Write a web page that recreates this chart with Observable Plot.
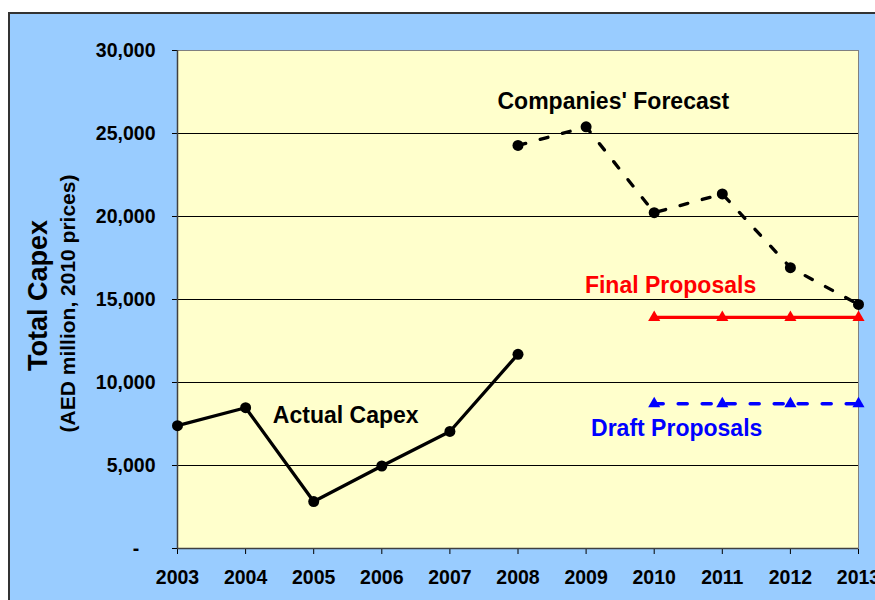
<!DOCTYPE html>
<html><head><meta charset="utf-8">
<script src="https://cdn.jsdelivr.net/npm/d3@7"></script>
<script src="https://cdn.jsdelivr.net/npm/@observablehq/plot@0.6"></script>
<style>
html,body{margin:0;padding:0;background:#fff;overflow:hidden;width:875px;height:600px;}
#chart{position:absolute;left:8px;top:12px;border-left:2px solid #333;border-top:2px solid #333;}
</style></head><body><div id="chart"></div>
<script>
const years = [2003, 2004, 2005, 2006, 2007, 2008, 2009, 2010, 2011, 2012, 2013];
const yTicks = [0, 5000, 10000, 15000, 20000, 25000, 30000];

const actualYears = [2003, 2004, 2005, 2006, 2007, 2008];
const actualValues = [7400, 8480, 2830, 4970, 7050, 11700];

const forecastYears = [2008, 2009, 2010, 2011, 2012, 2013];
const forecastValues = [24280, 25400, 20230, 21360, 16920, 14700];

const proposalYears = [2010, 2011, 2012, 2013];
const finalValues = [13920, 13920, 13920, 13920];
const draftValues = [8720, 8720, 8720, 8720];

const labels = ["Actual Capex", "Companies' Forecast", "Final Proposals", "Draft Proposals"];

const actual = actualYears.map((x, i) => ({x, y: actualValues[i]}));
const forecast = forecastYears.map((x, i) => ({x, y: forecastValues[i]}));
const finalP = proposalYears.map((x, i) => ({x, y: finalValues[i]}));
const draftP = proposalYears.map((x, i) => ({x, y: draftValues[i]}));

const labelFont = {fontSize: 23, fontWeight: "bold", textAnchor: "middle", lineAnchor: "middle"};

const chart = Plot.plot({
  width: 865, height: 586,
  marginLeft: 167, marginTop: 36, marginRight: 17, marginBottom: 52,
  style: {background: "#99CCFF", fontFamily: "'Liberation Sans', Arial, sans-serif", fontWeight: "bold", fontSize: "19.5px", color: "black", overflow: "hidden"},
  x: {domain: [2003, 2013], ticks: years, tickFormat: "d", tickSize: 6, tickPadding: 16, label: null},
  y: {domain: [0, 30000], ticks: yTicks, tickFormat: d => d === 0 ? "-\u00A0\u00A0\u00A0\u200B" : d3.format(",")(d), tickSize: 5, tickPadding: 17, label: null},
  marks: [
    Plot.frame({fill: "#FFFFCC", stroke: "#808080"}),
    Plot.ruleY(yTicks.filter(d => d > 0 && d < 30000), {stroke: "black", strokeWidth: 1}),
    Plot.ruleY([0], {stroke: "#404040", strokeWidth: 1.5}),
    Plot.ruleX([2003], {stroke: "#404040", strokeWidth: 1.5}),
    Plot.line(actual, {x: "x", y: "y", stroke: "black", strokeWidth: 3.3}),
    Plot.dot(actual, {x: "x", y: "y", r: 5.5, fill: "black"}),
    Plot.line(forecast, {x: "x", y: "y", stroke: "black", strokeWidth: 3.3, strokeDasharray: "8,15"}),
    Plot.dot(forecast, {x: "x", y: "y", r: 5.5, fill: "black"}),
    Plot.line(finalP, {x: "x", y: "y", stroke: "#FF0000", strokeWidth: 3.3}),
    Plot.dot(finalP, {x: "x", y: "y", r: 4.5, symbol: "triangle", fill: "#FF0000"}),
    Plot.line(draftP, {x: "x", y: "y", stroke: "#0000FF", strokeWidth: 3.5, strokeDasharray: "9,15"}),
    Plot.dot(draftP, {x: "x", y: "y", r: 4.5, symbol: "triangle", fill: "#0000FF"}),
    Plot.text([labels[0]], {x: () => 2005.47, y: () => 8000, fill: "black", ...labelFont}),
    Plot.text([labels[1]], {x: () => 2009.40, y: () => 26900, fill: "black", ...labelFont}),
    Plot.text([labels[2]], {x: () => 2010.24, y: () => 15850, fill: "#FF0000", ...labelFont}),
    Plot.text([labels[3]], {x: () => 2010.33, y: () => 7230, fill: "#0000FF", ...labelFont}),
    Plot.text(["Total Capex"], {frameAnchor: "left", dx: -139, dy: -4, rotate: -90, textAnchor: "middle", lineAnchor: "middle", fontSize: 27, fontWeight: "bold", fill: "black"}),
    Plot.text(["(AED million, 2010 prices)"], {frameAnchor: "left", dx: -109, dy: 4, rotate: -90, textAnchor: "middle", lineAnchor: "middle", fontSize: 21, fontWeight: "bold", fill: "black"})
  ]
});
document.getElementById("chart").appendChild(chart);
</script>
</body></html>
